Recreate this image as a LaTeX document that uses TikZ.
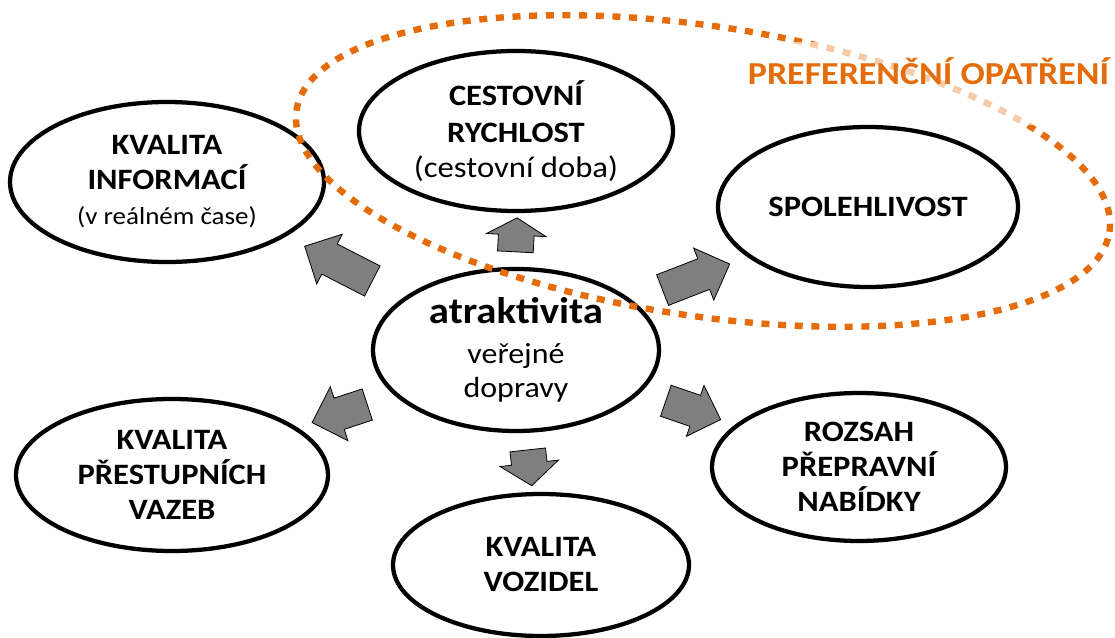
\documentclass[tikz,border=0pt]{standalone}
\usepackage{fontspec}
\setmainfont{Carlito}[FakeStretch=1.1]
\usetikzlibrary{shapes.geometric,shapes.arrows}
\definecolor{prefor}{HTML}{E46C0A}
\definecolor{arrgray}{HTML}{7F7F7F}
\begin{document}
\begin{tikzpicture}[x=0.75pt,y=-0.75pt,
  oval/.style={ellipse, draw=black, line width=3.2pt, inner sep=0pt, align=center,
    font=\fontsize{22.2}{26.25}\selectfont\bfseries},
  reg/.style={font=\fontsize{21.8}{25.5}\selectfont},
  blockarrow/.style={single arrow, draw=black, line width=0.6pt, fill=arrgray,
    inner xsep=0pt, single arrow head indent=0pt},
  prefdots/.style={ellipse, draw=prefor, line width=4.8pt, dash pattern=on 6pt off 6.5pt, inner sep=0pt},
  titlebox/.style={fill=white, fill opacity=0.65, text opacity=1, text=prefor, inner sep=0pt,
    text height=32.25pt, text depth=30pt, minimum width=280pt,
    font=\fontsize{24}{28}\selectfont\bfseries},
]
\fill[white] (0,0) rectangle (1115,638);
\useasboundingbox (0,0) rectangle (1115,638);

% ellipses
\node[oval, minimum width=235.5pt, minimum height=120pt] (ki) at (167,182)
  {KVALITA\\INFORMACÍ\\{\mdseries\fontsize{18.4}{22}\selectfont (v reálném čase)}};
\node[oval, minimum width=235.5pt, minimum height=120pt] (cr) at (516,131)
  {CESTOVNÍ\\[1.5pt]RYCHLOST\\{\mdseries\fontsize{22.3}{26.25}\selectfont (cestovní doba)}};
\node[oval, reg, minimum width=214.5pt, minimum height=121.5pt] (at) at (516,350)
  {{\bfseries\fontsize{27.8}{30}\selectfont atraktivita}\\[4.5pt]veřejné\\dopravy};
\node[oval, minimum width=234pt, minimum height=114pt] (kpv) at (172,475)
  {KVALITA\\PŘESTUPNÍCH\\VAZEB};
\node[oval, minimum width=222pt, minimum height=106.5pt] (kv) at (541,565)
  {KVALITA\\VOZIDEL};
\node[oval, minimum width=220.5pt, minimum height=111pt] (rpn) at (859,467)
  {ROZSAH\\PŘEPRAVNÍ\\NABÍDKY};

% block arrows
\node[blockarrow, minimum height=25.5pt, inner ysep=13.1pt, single arrow head extend=9pt,
  single arrow tip angle=120, rotate=87] (aup) at (516,240) {};
\node[blockarrow, minimum height=57pt, inner ysep=12.4pt, single arrow head extend=8.25pt,
  single arrow tip angle=90, rotate=152.8] (aul) at (346,267.5) {};
\node[blockarrow, minimum height=54pt, inner ysep=12pt, single arrow head extend=8.6pt,
  single arrow tip angle=90, rotate=21.2] (aur) at (688.5,280) {};
\node[blockarrow, minimum height=43.5pt, inner ysep=12pt, single arrow head extend=9pt,
  single arrow tip angle=90, rotate=198.1] (all) at (347.5,411) {};
\node[blockarrow, minimum height=43.5pt, inner ysep=12pt, single arrow head extend=7.9pt,
  single arrow tip angle=90, rotate=-19] (alr) at (685.5,407.5) {};
\node[blockarrow, minimum height=27pt, inner ysep=13.1pt, single arrow head extend=8.6pt,
  single arrow tip angle=105, rotate=-83.7] (adn) at (529,461) {};

% preference region
\node[prefdots, minimum width=616.5pt, minimum height=217.5pt, rotate=-8.5] (pref) at (703,171) {};
\node[titlebox, anchor=base] (title) at (928.5,85) {\scalebox{1.02}[1]{PREFERENČNÍ OPATŘENÍ}};
\node[oval, minimum width=225pt, minimum height=120pt] (sp) at (868,207) {SPOLEHLIVOST};
\end{tikzpicture}
\end{document}
